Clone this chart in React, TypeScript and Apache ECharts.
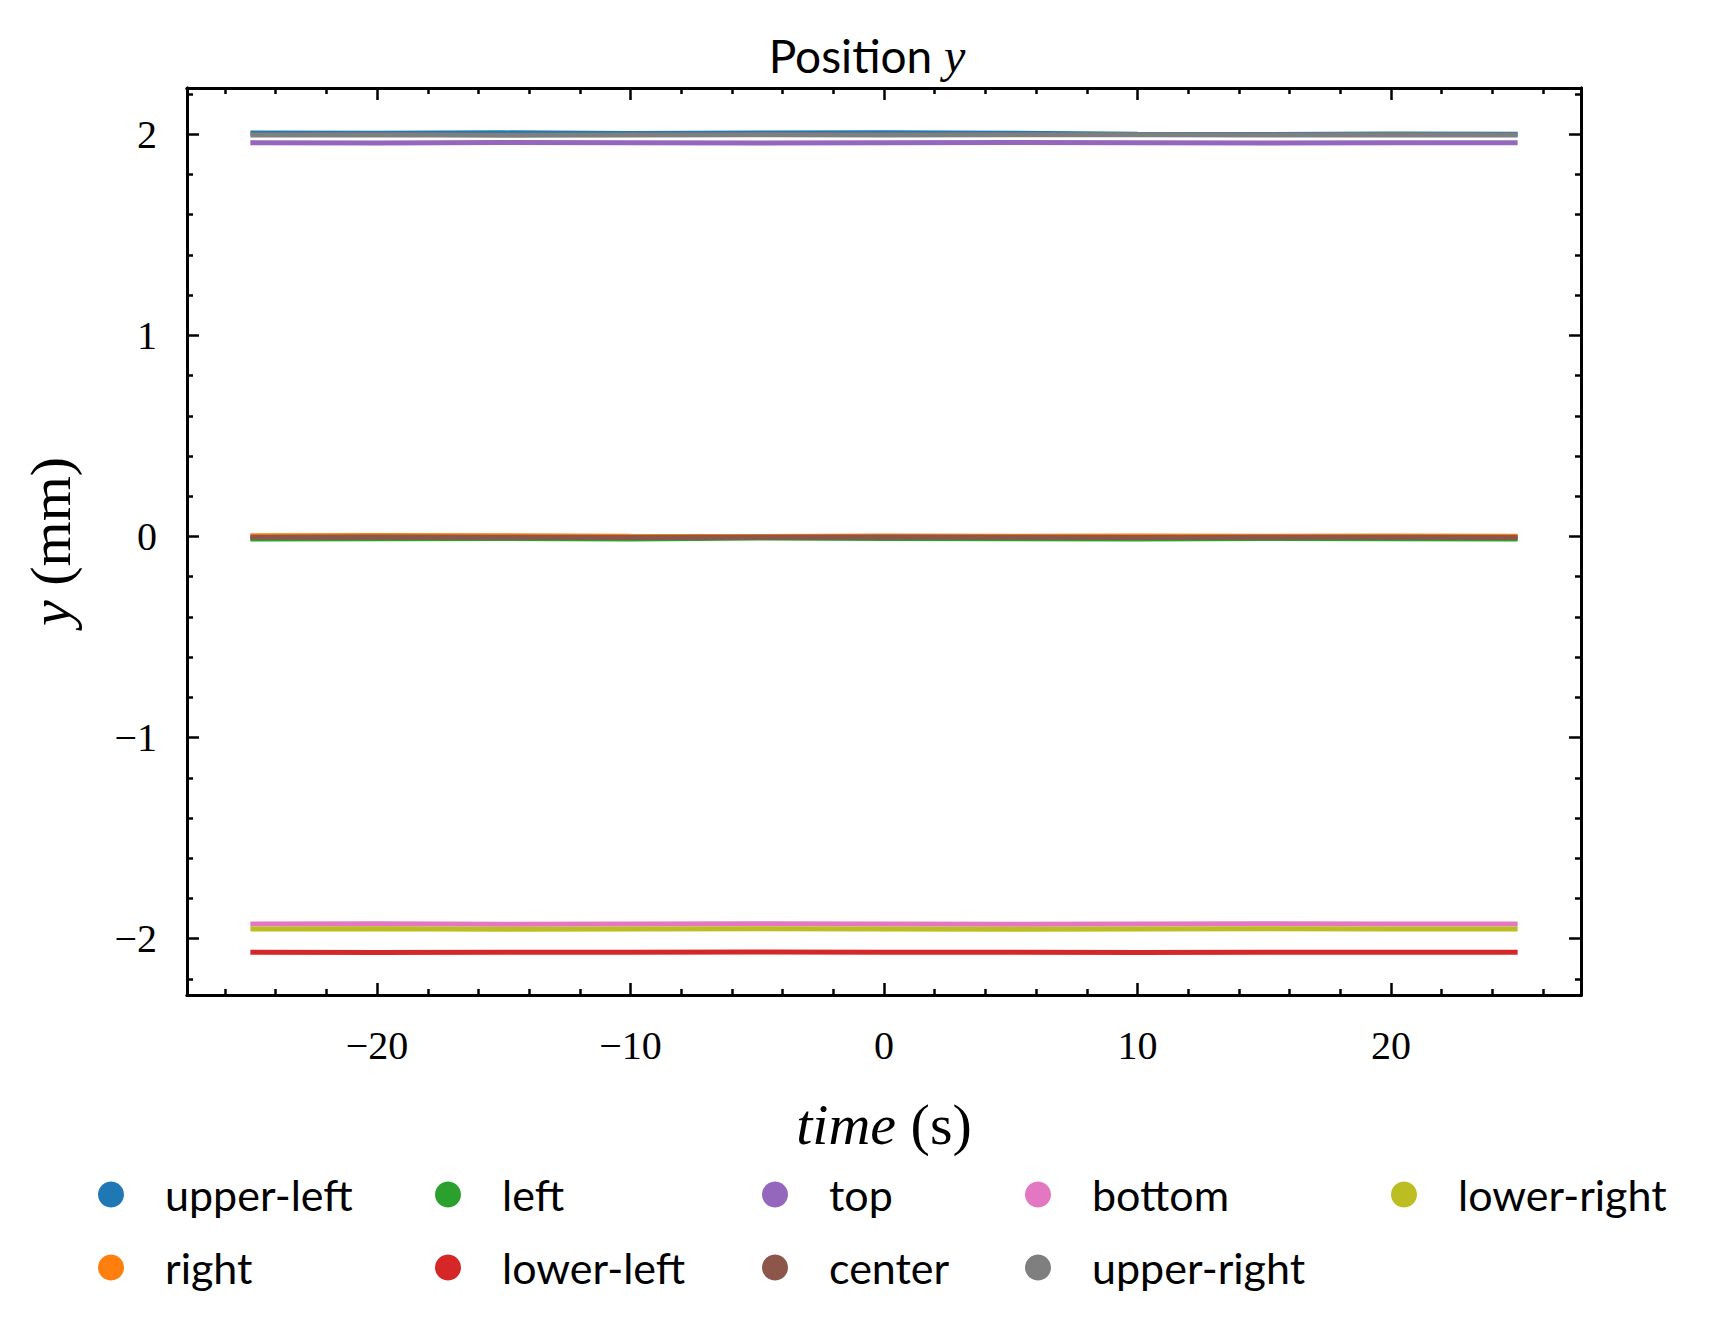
import { useEffect, useRef } from "react";
import * as echarts from "echarts";

const times = [-25, -20, -15, -10, -5, 0, 5, 10, 15, 20, 25];

const upperLeft = [2.006, 2.005, 2.007, 2.004, 2.006, 2.008, 2.005, 2.0, 1.999, 2.001, 2.0];
const right = [0.004, 0.005, 0.004, 0.001, 0.0, 0.002, 0.001, 0.002, 0.001, 0.002, 0.001];
const left = [-0.012, -0.011, -0.01, -0.012, -0.008, -0.01, -0.011, -0.012, -0.01, -0.011, -0.012];
const lowerLeft = [-2.068, -2.069, -2.067, -2.068, -2.066, -2.068, -2.067, -2.069, -2.068, -2.067, -2.068];
const top = [1.958, 1.957, 1.959, 1.958, 1.957, 1.958, 1.959, 1.958, 1.957, 1.958, 1.958];
const center = [-0.004, -0.003, -0.004, -0.005, -0.004, -0.003, -0.004, -0.005, -0.004, -0.004, -0.005];
const bottom = [-1.927, -1.926, -1.928, -1.927, -1.926, -1.927, -1.928, -1.927, -1.926, -1.927, -1.927];
const upperRight = [1.996, 1.997, 1.995, 1.996, 1.997, 1.996, 1.998, 1.997, 1.996, 1.997, 1.996];
const lowerRight = [-1.952, -1.951, -1.953, -1.952, -1.951, -1.952, -1.953, -1.952, -1.951, -1.952, -1.952];

const seriesList = [
  { name: "upper-left", color: "#1f77b4", values: upperLeft },
  { name: "right", color: "#ff7f0e", values: right },
  { name: "left", color: "#2ca02c", values: left },
  { name: "lower-left", color: "#d62728", values: lowerLeft },
  { name: "top", color: "#9467bd", values: top },
  { name: "center", color: "#8c564b", values: center },
  { name: "bottom", color: "#e377c2", values: bottom },
  { name: "upper-right", color: "#7f7f7f", values: upperRight },
  { name: "lower-right", color: "#bcbd22", values: lowerRight },
];

const legendColumns = [
  ["upper-left", "right"],
  ["left", "lower-left"],
  ["top", "center"],
  ["bottom", "upper-right"],
  ["lower-right"],
];
const legendLefts = [85, 422, 749, 1012, 1378];

const xMajor = [-20, -10, 0, 10, 20];
const xMinor = [-26, -24, -22, -18, -16, -14, -12, -8, -6, -4, -2, 2, 4, 6, 8, 12, 14, 16, 18, 22, 24, 26];
const yMajor = [-2, -1, 0, 1, 2];
const yMinor = [-2.2, -1.8, -1.6, -1.4, -1.2, -0.8, -0.6, -0.4, -0.2, 0.2, 0.4, 0.6, 0.8, 1.2, 1.4, 1.6, 1.8, 2.2];

const serif = "Liberation Serif";
const fmt = (v: number) => (v < 0 ? "\u2212" + Math.abs(v) : String(v));

export default function App() {
  const ref = useRef<HTMLDivElement | null>(null);

  useEffect(() => {
    if (!ref.current) return;
    const chart = echarts.init(ref.current, undefined, { renderer: "svg" });
    const line = { lineStyle: { color: "#000", width: 3 } };
    const xBase = { type: "value", min: -27.5, max: 27.5, splitLine: { show: false }, axisLine: { show: true, onZero: false, ...line } };
    const yBase = { type: "value", min: -2.28, max: 2.23, splitLine: { show: false }, axisLine: { show: true, onZero: false, ...line } };
    const tick = (vals: number[], len: number) => ({ show: true, inside: true, length: len, customValues: vals, lineStyle: { color: "#000", width: 2.5 } });

    chart.setOption({
      animation: false,
      backgroundColor: "#fff",
      title: {
        text: "Position {i|y}",
        left: "center",
        top: 18,
        textStyle: {
          fontFamily: "Lato",
          fontSize: 46,
          fontWeight: "normal",
          color: "#000",
          rich: { i: { fontFamily: serif, fontStyle: "italic", fontSize: 48 } },
        },
      },
      grid: { left: 179, right: 145, top: 80, bottom: 340 },
      legend: legendColumns.map((col, i) => ({
        data: col,
        orient: "vertical",
        left: legendLefts[i],
        top: 1160,
        icon: "circle",
        itemWidth: 26,
        itemHeight: 26,
        itemGap: 30,
        textStyle: { fontFamily: "Lato", fontSize: 43, color: "#000", padding: [0, 0, 0, 36] },
      })),
      xAxis: [
        { ...xBase, position: "bottom", axisTick: tick(xMajor, 12), axisLabel: { customValues: xMajor, formatter: fmt, fontFamily: serif, fontSize: 40, color: "#000", margin: 30 },
          name: "{i|time} (s)", nameLocation: "middle", nameGap: 100,
          nameTextStyle: { fontFamily: serif, fontSize: 58, color: "#000", rich: { i: { fontFamily: serif, fontStyle: "italic", fontSize: 58 } } } },
        { ...xBase, position: "bottom", axisTick: tick(xMinor, 6), axisLabel: { show: false } },
        { ...xBase, position: "top", axisTick: tick(xMajor, 12), axisLabel: { show: false } },
        { ...xBase, position: "top", axisTick: tick(xMinor, 6), axisLabel: { show: false } },
      ],
      yAxis: [
        { ...yBase, position: "left", axisTick: tick(yMajor, 12), axisLabel: { customValues: yMajor, formatter: fmt, fontFamily: serif, fontSize: 40, color: "#000", margin: 30 },
          name: "{i|y} (mm)", nameLocation: "middle", nameGap: 108, nameRotate: 90,
          nameTextStyle: { fontFamily: serif, fontSize: 58, color: "#000", rich: { i: { fontFamily: serif, fontStyle: "italic", fontSize: 58 } } } },
        { ...yBase, position: "left", axisTick: tick(yMinor, 6), axisLabel: { show: false } },
        { ...yBase, position: "right", axisTick: tick(yMajor, 12), axisLabel: { show: false } },
        { ...yBase, position: "right", axisTick: tick(yMinor, 6), axisLabel: { show: false } },
      ],
      series: seriesList.map((s) => ({
        name: s.name,
        type: "line",
        data: times.map((t, i) => [t, s.values[i]]),
        showSymbol: false,
        symbol: "circle",
        color: s.color,
        lineStyle: { color: s.color, width: 5 },
      })),
    });
    return () => chart.dispose();
  }, []);

  return <div ref={ref} style={{ width: 1718, height: 1327 }} />;
}
